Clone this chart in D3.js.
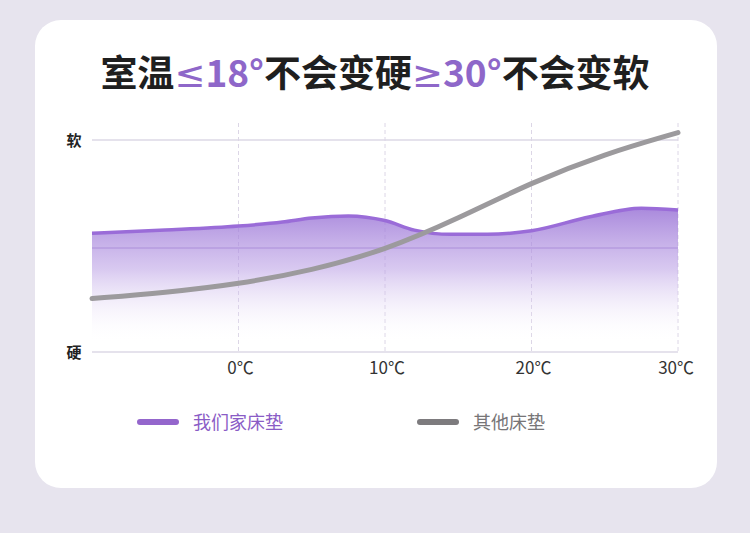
<!DOCTYPE html>
<html>
<head>
<meta charset="utf-8">
<script src="https://cdn.jsdelivr.net/npm/d3@7"></script>
<style>
  html, body { margin: 0; padding: 0; background: #e7e4ee; }
  svg { display: block; }
</style>
</head>
<body>
<div id="chart"></div>
<script>
const width = 750;
const height = 533;

// Data (temperature in °C, softness 0 = 硬, 100 = 软)
const ourTemps = [-10, -5, 0, 3, 5, 7.5, 10, 12, 14.5, 17, 20, 24, 27.5, 30];
const ourValues = [56, 57.5, 59.4, 61.3, 63.2, 64.2, 62, 57.5, 55.5, 55.5, 57.2, 63.8, 67.8, 67];
const otherTemps = [-10, -5, 0, 5, 10, 15, 20, 25, 30];
const otherValues = [25.2, 28, 32, 38.5, 48, 63, 80, 93.5, 103.5];
const xTicks = [0, 10, 20, 30];
const yLabels = ["硬", "软"];
const seriesNames = ["我们家床垫", "其他床垫"];

const ourData = ourTemps.map((t, i) => ({ t: t, v: ourValues[i] }));
const otherData = otherTemps.map((t, i) => ({ t: t, v: otherValues[i] }));

const svg = d3.select('#chart')
    .append('svg')
    .attr('width', width)
    .attr('height', height);

// white card
svg.append('rect')
    .attr('x', 35).attr('y', 20)
    .attr('width', 682).attr('height', 468)
    .attr('rx', 26)
    .attr('fill', '#ffffff');

// title
const fontFam = '"Noto Sans CJK SC", sans-serif';
const title = svg.append('text')
    .attr('x', 375).attr('y', 87)
    .attr('text-anchor', 'middle')
    .style('font-family', fontFam)
    .style('font-weight', 'bold')
    .style('font-size', '37px')
    .attr('fill', '#1f1f1f');
const titleParts = [
    { s: "室温", c: "#1f1f1f" },
    { s: "≤", c: "#8e67c9", f: '"DejaVu Sans", sans-serif' },
    { s: "18°", c: "#8e67c9" },
    { s: "不会变硬", c: "#1f1f1f" },
    { s: "≥", c: "#8e67c9", f: '"DejaVu Sans", sans-serif' },
    { s: "30°", c: "#8e67c9" },
    { s: "不会变软", c: "#1f1f1f" }
];
title.selectAll('tspan').data(titleParts).join('tspan')
    .attr('fill', d => d.c)
    .style('font-family', d => d.f || fontFam)
    .style('font-weight', d => d.f ? 'normal' : 'bold')
    .text(d => d.s);

// scales
const x = d3.scaleLinear().domain([-10, 30]).range([92, 678]);
const y = d3.scaleLinear().domain([0, 100]).range([352, 140]);

// gradient for the area
const defs = svg.append('defs');
const grad = defs.append('linearGradient')
    .attr('id', 'areaGrad')
    .attr('gradientUnits', 'userSpaceOnUse')
    .attr('x1', 0).attr('x2', 0)
    .attr('y1', y(68)).attr('y2', y(4));
grad.append('stop').attr('offset', '0%').attr('stop-color', '#9a74d6').attr('stop-opacity', 0.85);
grad.append('stop').attr('offset', '45%').attr('stop-color', '#b89ce4').attr('stop-opacity', 0.55);
grad.append('stop').attr('offset', '100%').attr('stop-color', '#ffffff').attr('stop-opacity', 0);

// grid: horizontal lines
svg.append('g')
    .selectAll('line')
    .data([0, 100])
    .join('line')
      .attr('x1', x(-10)).attr('x2', x(30))
      .attr('y1', d => y(d)).attr('y2', d => y(d))
      .attr('stroke', '#ddd8e6')
      .attr('stroke-width', 1.5);

// grid: vertical dashed lines
svg.append('g')
    .selectAll('line')
    .data(xTicks)
    .join('line')
      .attr('x1', d => x(d)).attr('x2', d => x(d))
      .attr('y1', 123).attr('y2', y(0))
      .attr('stroke', '#dcd6e6')
      .attr('stroke-width', 1)
      .attr('stroke-dasharray', '4,3');

// our mattress area
const area = d3.area()
    .x(d => x(d.t))
    .y0(y(0))
    .y1(d => y(d.v))
    .curve(d3.curveMonotoneX);

svg.append('path')
    .datum(ourData)
    .attr('d', area)
    .attr('fill', 'url(#areaGrad)');

// middle purple line
svg.append('line')
    .attr('x1', x(-10)).attr('x2', x(30))
    .attr('y1', y(49)).attr('y2', y(49))
    .attr('stroke', '#a98ad8')
    .attr('stroke-opacity', 0.6)
    .attr('stroke-width', 1.5);

const line = d3.line()
    .x(d => x(d.t))
    .y(d => y(d.v))
    .curve(d3.curveMonotoneX);

svg.append('path')
    .datum(ourData)
    .attr('d', line)
    .attr('fill', 'none')
    .attr('stroke', '#9a6cd8')
    .attr('stroke-width', 3.5);

// other mattress line
svg.append('path')
    .datum(otherData)
    .attr('d', d3.line().x(d => x(d.t)).y(d => y(d.v)).curve(d3.curveBasis))
    .attr('fill', 'none')
    .attr('stroke', '#9c9a9d')
    .attr('stroke-width', 5)
    .attr('stroke-linecap', 'round');

// axis labels
svg.append('g')
    .selectAll('text')
    .data(xTicks)
    .join('text')
      .attr('x', d => d === 30 ? x(d) + 16 : x(d) + 2)
      .attr('y', 374)
      .attr('text-anchor', d => d === 30 ? 'end' : 'middle')
      .style('font-family', fontFam)
      .style('font-size', '17px')
      .attr('fill', '#333')
      .text(d => d + '℃');

svg.append('g')
    .selectAll('text')
    .data(yLabels)
    .join('text')
      .attr('x', 74)
      .attr('y', (d, i) => y(i * 100) + 6)
      .attr('text-anchor', 'middle')
      .style('font-family', fontFam)
      .style('font-weight', 'bold')
      .style('font-size', '15px')
      .attr('fill', '#222')
      .text(d => d);

// legend
const legendColors = ['#9466cc', '#7d7b7e'];
const legendText = ['#8a5cc6', '#777577'];
const legend = svg.append('g')
    .selectAll('g')
    .data(seriesNames)
    .join('g')
      .attr('transform', (d, i) => `translate(${140 + i * 280}, 422)`);
legend.append('line')
    .attr('x1', 0).attr('x2', 36)
    .attr('y1', 0).attr('y2', 0)
    .attr('stroke', (d, i) => legendColors[i])
    .attr('stroke-width', 6)
    .attr('stroke-linecap', 'round');
legend.append('text')
    .attr('x', 53)
    .attr('y', 7)
    .style('font-family', fontFam)
    .style('font-size', '18px')
    .attr('fill', (d, i) => legendText[i])
    .text(d => d);
</script>
</body>
</html>
